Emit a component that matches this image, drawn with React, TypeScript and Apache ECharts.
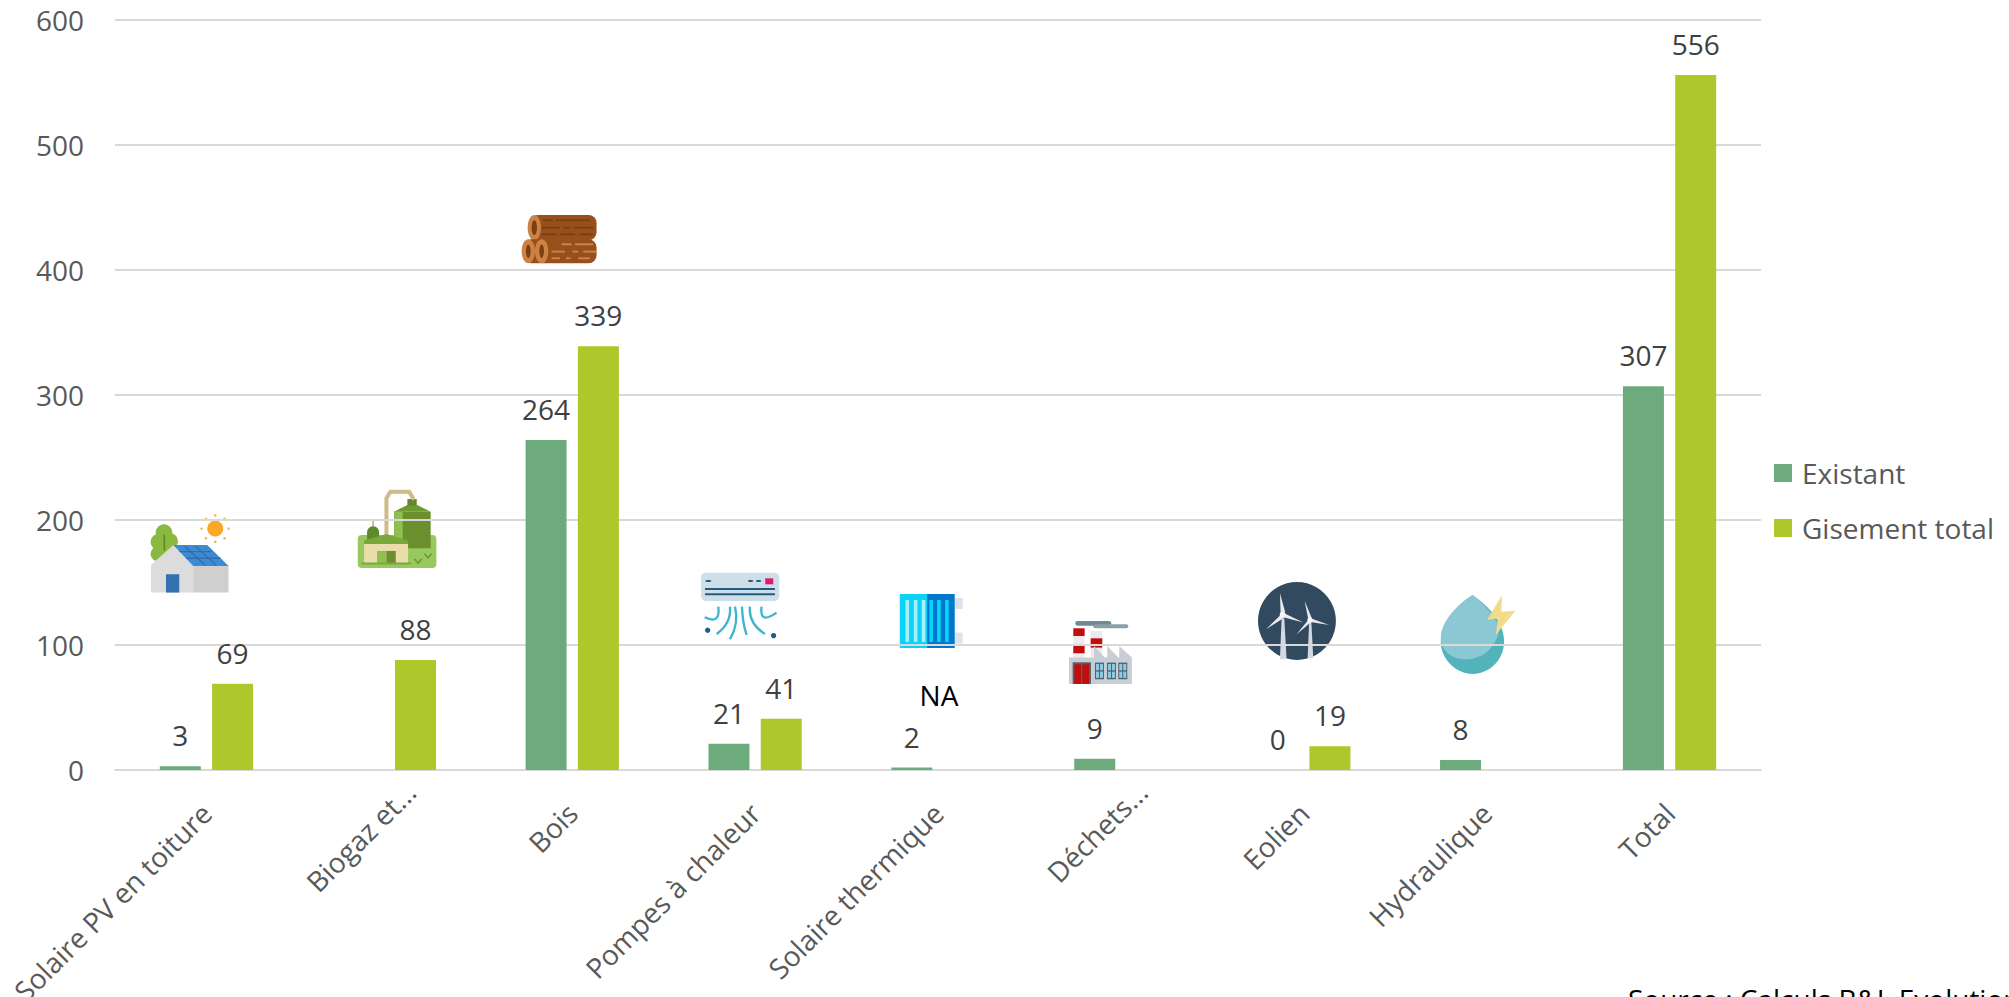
import React, { useEffect, useRef } from "react";
import * as echarts from "echarts";

const categories = ["Solaire PV en toiture", "Biogaz et...", "Bois", "Pompes à chaleur", "Solaire thermique", "Déchets...", "Eolien", "Hydraulique", "Total"];
const shiftedCategories = ["Biogaz et...", "Déchets..."];
const existant = [3, null, 264, 21, 2, 9, 0, 8, 307];
const gisementTotal = [69, 88, 339, 41, null, null, 19, null, 556];
const yTicks = { min: 0, max: 600, interval: 100 };

const FONT = "'Open Sans'";

echarts.graphic.registerShape("dropDark", echarts.graphic.extendPath("M698 75C660 100 603 150 603 215C603 270 650 312 698 312C750 312 793 270 793 215C793 150 735 100 698 75Z", {}));
echarts.graphic.registerShape("dropLight", echarts.graphic.extendPath("M698 75C660 100 603 150 603 205C603 235 630 270 680 268C740 268 775 220 780 170C760 130 720 90 698 75Z", {}));

const rect = (x: number, y: number, width: number, height: number, fill: string, r = 0) => ({ type: "rect", shape: { x, y, width, height, r }, style: { fill } });
const circle = (cx: number, cy: number, r: number, fill: string) => ({ type: "circle", shape: { cx, cy, r }, style: { fill } });
const ell = (cx: number, cy: number, rx: number, ry: number, fill: string) => ({ type: "ellipse", shape: { cx, cy, rx, ry }, style: { fill } });
const poly = (points: number[][], fill: string) => ({ type: "polygon", shape: { points }, style: { fill } });
const pline = (points: number[][], stroke: string, lineWidth: number) => ({ type: "polyline", shape: { points }, style: { fill: "none", stroke, lineWidth, lineCap: "round", lineJoin: "round" } });
const curve = (x1: number, y1: number, cx: number, cy: number, x2: number, y2: number, stroke: string, lineWidth = 7) => ({ type: "bezierCurve", shape: { x1, y1, cpx1: cx, cpy1: cy, x2, y2 }, style: { fill: "none", stroke, lineWidth } });
const icon = (x: number, y: number, children: any[]) => ({ type: "group", x, y, scaleX: 1 / 3, scaleY: 1 / 3, silent: true, children });

const house = icon(130, 470, [
  circle(102, 188, 25, "#8BB93F"), circle(86, 216, 24, "#8BB93F"), circle(120, 214, 24, "#8BB93F"), circle(84, 252, 22, "#8BB93F"), rect(70, 200, 50, 70, "#8BB93F"),
  pline([[103, 195], [103, 240]], "#5F8A2A", 5),
  poly([[63, 285], [130, 225], [190, 285], [190, 368], [63, 368]], "#DCDCDC"),
  rect(190, 285, 106, 83, "#CFCFCF"),
  poly([[130, 225], [232, 225], [296, 288], [190, 288]], "#3D8BD0"),
  pline([[165, 230], [225, 285]], "#2F6FB0", 4), pline([[198, 230], [258, 285]], "#2F6FB0", 4),
  pline([[150, 245], [245, 245]], "#2F6FB0", 4), pline([[170, 265], [270, 265]], "#2F6FB0", 4),
  rect(108, 313, 40, 55, "#3571AE"),
  circle(256, 176, 24, "#FBA826"),
  ...[[256, 136], [284, 147], [296, 176], [284, 205], [256, 216], [228, 205], [215, 176], [228, 147]].map(([a, b]) => circle(a, b, 4, "#FBB84A")),
]);

const biogas = icon(130, 470, [
  rect(684, 195, 236, 99, "#97C95F", 12),
  rect(793, 125, 110, 110, "#6B8E2E"), rect(793, 125, 26, 110, "#8FBF50"),
  poly([[793, 125], [833, 105], [862, 105], [903, 125]], "#6F9A32"),
  rect(833, 87, 28, 20, "#5F8A2A"),
  pline([[770, 195], [770, 85], [782, 65], [838, 65], [850, 85]], "#CDBB8A", 12),
  circle(730, 187, 18, "#5F8A2A"), rect(712, 187, 36, 25, "#5F8A2A"), pline([[730, 150], [730, 172]], "#6F9A32", 3),
  rect(703, 220, 132, 60, "#EBDDAA"),
  poly([[703, 212], [770, 192], [835, 212], [835, 222], [703, 222]], "#78A83A"),
  rect(742, 243, 28, 37, "#8FBF50"), rect(770, 243, 28, 37, "#6B8E2E"),
  rect(695, 278, 150, 6, "#7BAA3F"),
  pline([[855, 268], [865, 280], [875, 268]], "#6B8E2E", 4), pline([[885, 252], [895, 264], [905, 252]], "#6B8E2E", 4),
]);

const logDash = (y: number, segs: number[][], c: string) => segs.map(([a, b]) => rect(a, y, b - a, 6, c));
const wood = icon(500, 200, [
  rect(90, 45, 200, 76, "#97501C", 24),
  ell(103, 83, 20, 38, "#CB8244"), ell(103, 83, 8, 22, "#7C3F12"),
  ...logDash(58, [[130, 158], [168, 270]], "#7C3F12"), ...logDash(80, [[125, 180], [190, 210], [220, 280]], "#7C3F12"), ...logDash(100, [[125, 170], [180, 225], [240, 280]], "#7C3F12"),
  rect(70, 118, 220, 72, "#97501C", 24),
  ell(85, 154, 20, 36, "#CB8244"), ell(85, 154, 7, 20, "#7C3F12"),
  ell(125, 154, 20, 36, "#CB8244"), ell(125, 154, 7, 20, "#7C3F12"),
  ...logDash(130, [[185, 215], [225, 280]], "#CB8244"), ...logDash(152, [[155, 195], [218, 235], [250, 290]], "#CB8244"), ...logDash(172, [[155, 180], [198, 212], [235, 270]], "#CB8244"),
]);

const ac = icon(680, 560, [
  rect(63, 38, 235, 85, "#CFDFE8", 14),
  rect(75, 84, 210, 6, "#1F5C87"), rect(75, 100, 210, 6, "#1F5C87"),
  ell(85, 63, 9, 3, "#1F5C87"), ell(212, 63, 8, 3, "#1F5C87"), ell(236, 63, 8, 3, "#1F5C87"),
  rect(256, 55, 24, 18, "#DE1B6C"),
  curve(150, 140, 155, 190, 110, 222, "#3FB4CF"), curve(210, 140, 205, 190, 255, 222, "#3FB4CF"),
  curve(165, 140, 178, 190, 150, 238, "#3FB4CF"), curve(186, 140, 188, 190, 200, 225, "#3FB4CF"),
  curve(115, 140, 122, 195, 74, 172, "#3FB4CF"), curve(245, 140, 238, 195, 290, 158, "#3FB4CF"),
  circle(83, 211, 8, "#1F5C87"), circle(281, 227, 8, "#1F5C87"),
]);

const radiator = icon(680, 560, [
  rect(825, 114, 24, 33, "#DCE3EC"), rect(825, 218, 24, 33, "#DCE3EC"),
  rect(660, 102, 82, 162, "#0BD3F8"), rect(742, 102, 83, 162, "#0277CE"),
  rect(677, 120, 11, 126, "#A5F0F8"), rect(702, 120, 11, 126, "#A5F0F8"), rect(726, 120, 11, 126, "#A5F0F8"),
  rect(749, 120, 11, 126, "#0BD3F8"), rect(772, 120, 11, 126, "#0BD3F8"), rect(796, 120, 11, 126, "#0BD3F8"),
]);

const factoryWindow = (x: number) => [
  rect(x, 158, 27, 50, "#50626F"), rect(x + 3, 162, 9, 19, "#8CCBE4"), rect(x + 15, 162, 9, 19, "#8CCBE4"), rect(x + 3, 185, 9, 19, "#8CCBE4"), rect(x + 15, 185, 9, 19, "#8CCBE4"),
];
const factory = icon(1050, 610, [
  rect(76, 33, 108, 14, "#6F8A93", 7), rect(130, 43, 105, 12, "#8AA0A8", 6),
  rect(70, 55, 34, 90, "#ECECF0"), rect(70, 55, 34, 23, "#C00D0D"), rect(70, 102, 34, 28, "#C00D0D"),
  rect(122, 63, 35, 80, "#ECECF0"), rect(122, 85, 35, 28, "#C00D0D"),
  poly([[57, 143], [132, 143], [132, 108], [165, 143], [172, 143], [172, 108], [205, 143], [208, 143], [208, 108], [246, 143], [246, 222], [57, 222]], "#C9CED6"),
  rect(68, 157, 55, 65, "#5A5F66"), rect(73, 163, 20, 59, "#C00D0D"), rect(97, 163, 20, 59, "#C00D0D"),
  ...factoryWindow(135), ...factoryWindow(171), ...factoryWindow(205),
]);

const wind = icon(1240, 570, [
  circle(171, 153, 117, "#324A5F"),
  poly([[125, 145], [133, 145], [140, 268], [120, 268]], "#D4D8E2"), poly([[208, 150], [214, 150], [220, 265], [203, 265]], "#D4D8E2"),
  poly([[120, 70], [136, 128], [122, 130]], "#E8EAF0"), poly([[133, 130], [190, 158], [130, 142]], "#E8EAF0"), poly([[122, 135], [130, 145], [78, 178]], "#E8EAF0"),
  poly([[194, 92], [216, 146], [205, 148]], "#E8EAF0"), poly([[214, 146], [268, 165], [212, 156]], "#E8EAF0"), poly([[205, 150], [212, 158], [170, 193]], "#E8EAF0"),
  circle(128, 135, 9, "#F5F6F8"), circle(210, 150, 8, "#F5F6F8"),
]);

const drop = icon(1240, 570, [
  { type: "dropDark", style: { fill: "#52B3BB" } },
  { type: "dropLight", style: { fill: "#8CC8D3" } },
  poly([[787, 75], [742, 150], [775, 145], [768, 195], [827, 122], [785, 125]], "#F2DC8C"),
]);

export default function App() {
  const ref = useRef<HTMLDivElement>(null);
  useEffect(() => {
    document.body.style.margin = "0";
    const chart = echarts.init(ref.current!, undefined, { renderer: "svg" });
    const labelStyle = { show: true, position: "top", distance: 17, color: "#404040", fontSize: 28, fontFamily: FONT };
    chart.setOption({
      animation: false,
      backgroundColor: "#ffffff",
      textStyle: { fontFamily: FONT },
      grid: { left: 115, right: 248, top: 20, bottom: 227, containLabel: false, outerBoundsMode: "none" },
      legend: {
        orient: "vertical", left: 1774, top: 459, padding: 0, itemWidth: 18, itemHeight: 18, itemGap: 27,
        icon: "rect",
        textStyle: { color: "#595959", fontSize: 28, fontFamily: FONT, padding: [0, 0, 0, 5] },
        data: ["Existant", "Gisement total"],
      },
      xAxis: {
        type: "category",
        data: categories.map((c) => (shiftedCategories.includes(c) ? { value: c, textStyle: { padding: [0, -30, 0, 0] } } : c)),
        axisTick: { show: false },
        axisLine: { lineStyle: { color: "#D9D9D9", width: 2 } },
        axisLabel: { rotate: 45, interval: 0, margin: 38, color: "#595959", fontSize: 28, fontFamily: FONT },
      },
      yAxis: {
        type: "value", ...yTicks,
        axisLine: { show: false }, axisTick: { show: false },
        splitLine: { lineStyle: { color: "#D9D9D9", width: 2 } },
        axisLabel: { margin: 31, color: "#595959", fontSize: 28, fontFamily: FONT, padding: [0, 0, 3, 0] },
      },
      series: [
        { name: "Existant", type: "bar", data: existant, barWidth: 41, barGap: "27.5%", itemStyle: { color: "#6DAB7C" }, label: labelStyle },
        { name: "Gisement total", type: "bar", data: gisementTotal, barWidth: 41, itemStyle: { color: "#AEC82B" }, label: labelStyle },
      ],
      graphic: {
        z: 10,
        elements: [
          house, biogas, wood, ac, radiator, factory, wind, drop,
          { type: "text", x: 939, y: 695, silent: true, style: { text: "NA", fill: "#000000", fontSize: 28, fontFamily: FONT, align: "center", verticalAlign: "middle" } },
          { type: "text", x: 1628, y: 985, silent: true, style: { text: "Source : Calculs B&L Evolution", fill: "#000000", fontSize: 28, fontFamily: FONT, align: "left", verticalAlign: "top" } },
        ],
      },
    });
    return () => chart.dispose();
  }, []);
  return <div ref={ref} style={{ position: "absolute", left: 0, top: 0, width: 2009, height: 997, overflow: "hidden" }} />;
}
